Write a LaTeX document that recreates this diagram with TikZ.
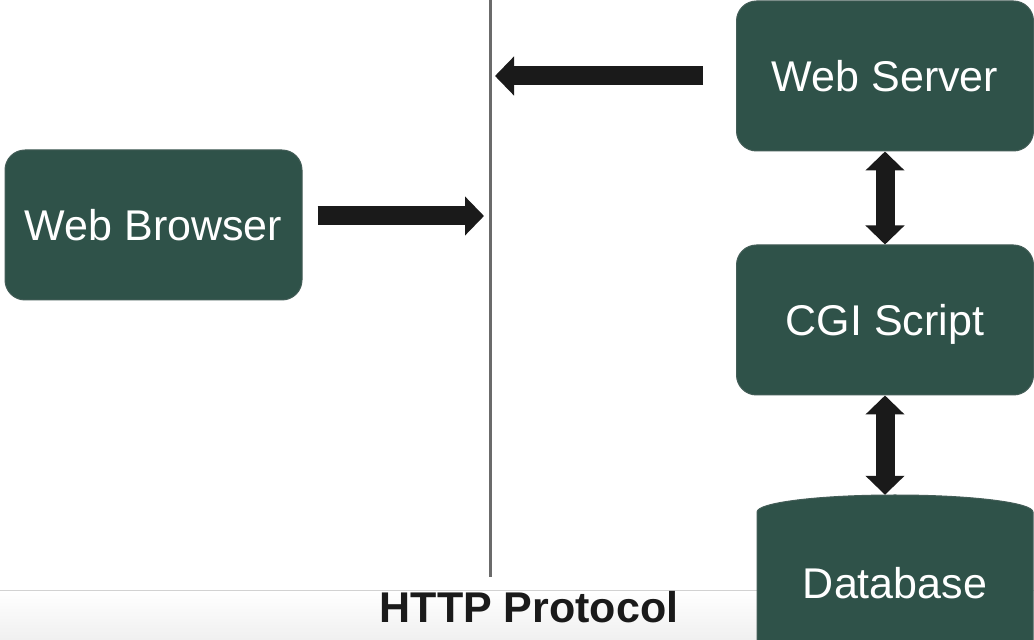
\documentclass[tikz,border=0pt]{standalone}
\usepackage{fontspec}
\setmainfont{Liberation Sans}
\usetikzlibrary{arrows.meta}
\definecolor{boxgreen}{RGB}{47,82,73}
\definecolor{arrowblack}{RGB}{26,26,26}
\definecolor{linegray}{RGB}{107,107,107}

\begin{document}
\begin{tikzpicture}[x=1pt,y=1pt,
    box/.style={fill=boxgreen, draw=boxgreen!75!gray, line width=1pt, rounded corners=20pt,
        minimum width=297pt, minimum height=150pt, inner sep=0pt,
        text=white, font=\fontsize{43}{50}\selectfont, text height=31pt, text depth=0pt},
    bigarrow/.style={draw=arrowblack, line width=19pt, -{Triangle[width=38pt,length=19pt]}},
    bothways/.style={bigarrow, {Triangle[width=38pt,length=19pt]}-{Triangle[width=38pt,length=19pt]}}]
            \clip (0,0) rectangle (1034,640);
            \fill[white] (0,0) rectangle (1034,640);
            \shade[top color=white, bottom color=gray!12] (0,0) rectangle (1034,49);
            \draw[gray!35, line width=1pt] (0,49) -- (1034,49);

            \coordinate (ltop) at (490,640);
            \coordinate (lbot) at (490,63);
            \draw[linegray, line width=3pt] (ltop) -- (lbot);

            \node[box] (browser) at (153.5,415) {Web Browser};
            \node[box] (server) at (885,564) {Web Server};
            \node[box] (cgi) at (885,320) {CGI Script};

            \filldraw[fill=boxgreen, draw=boxgreen!75!gray, line width=1pt]
                (757,-10) -- (757,128) arc[start angle=180, end angle=0, x radius=138, y radius=17]
                -- (1033,-10) -- cycle;
            \node[text=white, font=\fontsize{43}{50}\selectfont, text height=31pt, text depth=0pt,
                minimum width=276pt, minimum height=176pt, inner sep=0pt] (db) at (895,57) {Database};

            \node[text=arrowblack, font=\bfseries\fontsize{43}{50}\selectfont] (http) at (529,33) {HTTP Protocol};

            \coordinate (reqend) at (484,424);
            \coordinate (respend) at (495,564);
            \draw[bigarrow] ([xshift=15pt,yshift=9pt]browser.east) -- (reqend);
            \draw[bigarrow] ([xshift=-33pt]server.west) -- (respend);
            \draw[bothways] (server.south) -- (cgi.north);
            \draw[bothways] (cgi.south) -- (cgi.south |- db.north);
        \end{tikzpicture}
\end{document}
